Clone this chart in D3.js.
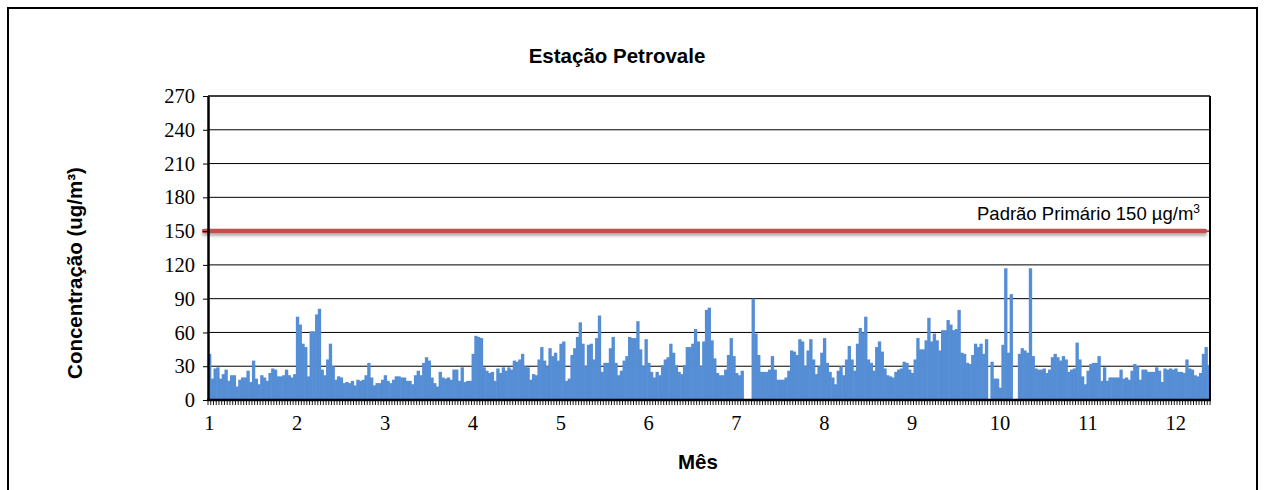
<!DOCTYPE html>
<html>
<head>
<meta charset="utf-8">
<script src="https://cdn.jsdelivr.net/npm/d3@7/dist/d3.min.js"></script>
<style>
  html, body { margin: 0; padding: 0; background: #fff; }
  svg { display: block; }
</style>
</head>
<body>
<svg id="chart" width="1267" height="490"></svg>
<script>
// Concentração diária de partículas (µg/m³) – Estação Petrovale
const concentracao = [
  41,19,28,29,19,23,27,17,22,22,12,18,20,20,26,16,35,19,14,22,20,17,24,28,27,21,21,22,27,22,20,23,
  74,67,50,47,21,61,61,76,81,27,22,36,50,30,18,21,20,15,16,15,17,13,18,17,18,22,33,20,13,15,15,18,22,17,15,18,21,
  21,20,20,17,17,14,22,26,22,33,38,35,20,15,12,25,20,19,20,18,27,27,17,29,16,17,17,41,57,56,55,29,26,24,25,17,28,
  24,29,26,29,27,35,34,36,41,30,29,18,23,22,36,47,35,30,46,39,42,35,50,52,17,19,40,46,56,69,50,30,49,50,36,55,75,
  25,33,33,46,56,33,22,26,35,39,56,55,55,70,45,30,54,33,25,20,25,22,31,36,38,50,42,31,25,23,31,47,47,50,63,52,
  30,52,80,82,53,37,24,22,22,27,40,55,39,24,22,26,0,0,0,90,59,40,25,25,25,27,39,27,18,18,18,20,26,44,43,40,54,
  52,30,44,54,36,23,30,42,55,33,25,20,14,26,30,22,36,48,36,26,50,64,60,74,36,33,26,47,52,43,28,22,21,20,25,27,28,
  34,33,27,24,36,55,45,45,53,73,52,59,53,44,62,62,71,67,62,63,80,42,41,33,32,40,50,47,50,41,54,0,34,19,19,
  11,49,117,42,94,0,0,41,46,44,42,117,39,28,27,27,28,24,27,38,41,38,35,39,36,25,27,28,51,36,21,14,26,32,33,33,39,
  17,29,17,20,20,20,20,27,19,20,18,26,32,30,18,27,27,25,25,25,29,26,16,28,27,28,27,28,25,25,24,36,28,27,22,21,24,41,47,31
];

// Dias (categorias do eixo X)
const dias = concentracao.map((_, i) => i + 1);

// Rótulos dos meses e o dia em que cada um é colocado
const mesesRotulos = ["1","2","3","4","5","6","7","8","9","10","11","12"];
const mesesDia     = [1, 33, 65, 97, 129, 161, 193, 225, 257, 289, 321, 353];

// Marcas do eixo Y
const yTicks = [0, 30, 60, 90, 120, 150, 180, 210, 240, 270];

// Padrão primário de qualidade do ar
const padraoPrimario = 150;
const padraoRotulo = "Padrão Primário 150 µg/m";

const svg = d3.select("#chart");

const plot = { left: 208, right: 1210, top: 96, bottom: 400 };

const x = d3.scaleBand()
  .domain(dias)
  .range([plot.left, plot.right])
  .paddingInner(0)
  .paddingOuter(0);

const y = d3.scaleLinear()
  .domain([0, 270])
  .range([plot.bottom, plot.top]);

// Moldura externa
svg.append("rect")
  .attr("x", 8).attr("y", 8)
  .attr("width", 1249).attr("height", 490)
  .attr("fill", "none")
  .attr("stroke", "#000")
  .attr("stroke-width", 2);

// Título
svg.append("text")
  .attr("x", 617).attr("y", 63)
  .attr("text-anchor", "middle")
  .style("font-family", "'Liberation Sans', Arial, sans-serif")
  .style("font-weight", "bold")
  .style("font-size", "20.5px")
  .text("Estação Petrovale");

// Linhas de grade
svg.append("g")
  .selectAll("line")
  .data(yTicks.filter(t => t > 0 && t < 270))
  .join("line")
  .attr("x1", plot.left).attr("x2", plot.right)
  .attr("y1", d => y(d)).attr("y2", d => y(d))
  .attr("stroke", "#000")
  .attr("stroke-width", 1);

// Barras diárias (levemente sobrepostas para formar uma área contínua)
svg.append("g")
  .selectAll("rect")
  .data(concentracao)
  .join("rect")
  .attr("x", (d, i) => x(dias[i]))
  .attr("width", x.bandwidth() + 0.6)
  .attr("y", d => y(d))
  .attr("height", d => y(0) - y(d))
  .attr("fill", "#558ed5");

// Borda superior e direita da área do gráfico
svg.append("line")
  .attr("x1", plot.left).attr("x2", plot.right)
  .attr("y1", plot.top).attr("y2", plot.top)
  .attr("stroke", "#000").attr("stroke-width", 1.5);
svg.append("line")
  .attr("x1", plot.right).attr("x2", plot.right)
  .attr("y1", plot.top).attr("y2", plot.bottom)
  .attr("stroke", "#000").attr("stroke-width", 2);

// Linha do padrão primário com sombra
const defs = svg.append("defs");
const sombra = defs.append("filter")
  .attr("id", "sombra")
  .attr("filterUnits", "userSpaceOnUse")
  .attr("x", 0).attr("y", 0)
  .attr("width", 1267).attr("height", 490);
sombra.append("feDropShadow")
  .attr("dx", 0).attr("dy", 2.5)
  .attr("stdDeviation", 1.5)
  .attr("flood-color", "#000")
  .attr("flood-opacity", 0.35);

svg.append("line")
  .attr("x1", plot.left - 4).attr("x2", plot.right - 5)
  .attr("y1", y(padraoPrimario)).attr("y2", y(padraoPrimario))
  .attr("stroke", "#c0504d")
  .attr("stroke-width", 4.5)
  .attr("stroke-linecap", "round")
  .attr("filter", "url(#sombra)");

const rotulo = svg.append("text")
  .attr("x", 1200).attr("y", y(padraoPrimario) - 11)
  .attr("text-anchor", "end")
  .style("font-family", "'Liberation Sans', Arial, sans-serif")
  .style("font-size", "18.5px");
rotulo.append("tspan").text(padraoRotulo);
rotulo.append("tspan")
  .attr("dy", -7)
  .style("font-size", "12px")
  .text("3");

// Eixo Y
const eixoY = svg.append("g")
  .attr("transform", `translate(${plot.left},0)`)
  .call(d3.axisLeft(y).tickValues(yTicks).tickSize(5).tickPadding(8).tickSizeOuter(0));
eixoY.select(".domain").attr("stroke", "#000").attr("stroke-width", 2.5);
eixoY.selectAll(".tick line").attr("stroke", "#000").attr("stroke-width", 1);
eixoY.selectAll(".tick text")
  .style("font-family", "'Liberation Serif', 'Times New Roman', serif")
  .style("font-size", "20.5px")
  .attr("fill", "#000");

// Eixo X: marcas em cada dia
svg.append("g")
  .selectAll("line")
  .data(d3.range(dias.length + 1))
  .join("line")
  .attr("x1", i => plot.left + i * x.step())
  .attr("x2", i => plot.left + i * x.step())
  .attr("y1", plot.bottom)
  .attr("y2", plot.bottom + 5)
  .attr("stroke", "#000")
  .attr("stroke-width", 0.9);

svg.append("line")
  .attr("x1", plot.left - 1).attr("x2", plot.right + 1)
  .attr("y1", plot.bottom).attr("y2", plot.bottom)
  .attr("stroke", "#000").attr("stroke-width", 2.5);

// Rótulos dos meses
svg.append("g")
  .selectAll("text")
  .data(mesesRotulos)
  .join("text")
  .attr("x", (d, i) => x(mesesDia[i]) + x.bandwidth() / 2)
  .attr("y", 430)
  .attr("text-anchor", "middle")
  .style("font-family", "'Liberation Serif', 'Times New Roman', serif")
  .style("font-size", "20.5px")
  .text(d => d);

// Títulos dos eixos
svg.append("text")
  .attr("x", 698).attr("y", 469)
  .attr("text-anchor", "middle")
  .style("font-family", "'Liberation Sans', Arial, sans-serif")
  .style("font-weight", "bold")
  .style("font-size", "20.5px")
  .text("Mês");

svg.append("text")
  .attr("transform", "translate(82,273) rotate(-90)")
  .attr("text-anchor", "middle")
  .style("font-family", "'Liberation Sans', Arial, sans-serif")
  .style("font-weight", "bold")
  .style("font-size", "20.5px")
  .text("Concentração (ug/m³)");
</script>
</body>
</html>
